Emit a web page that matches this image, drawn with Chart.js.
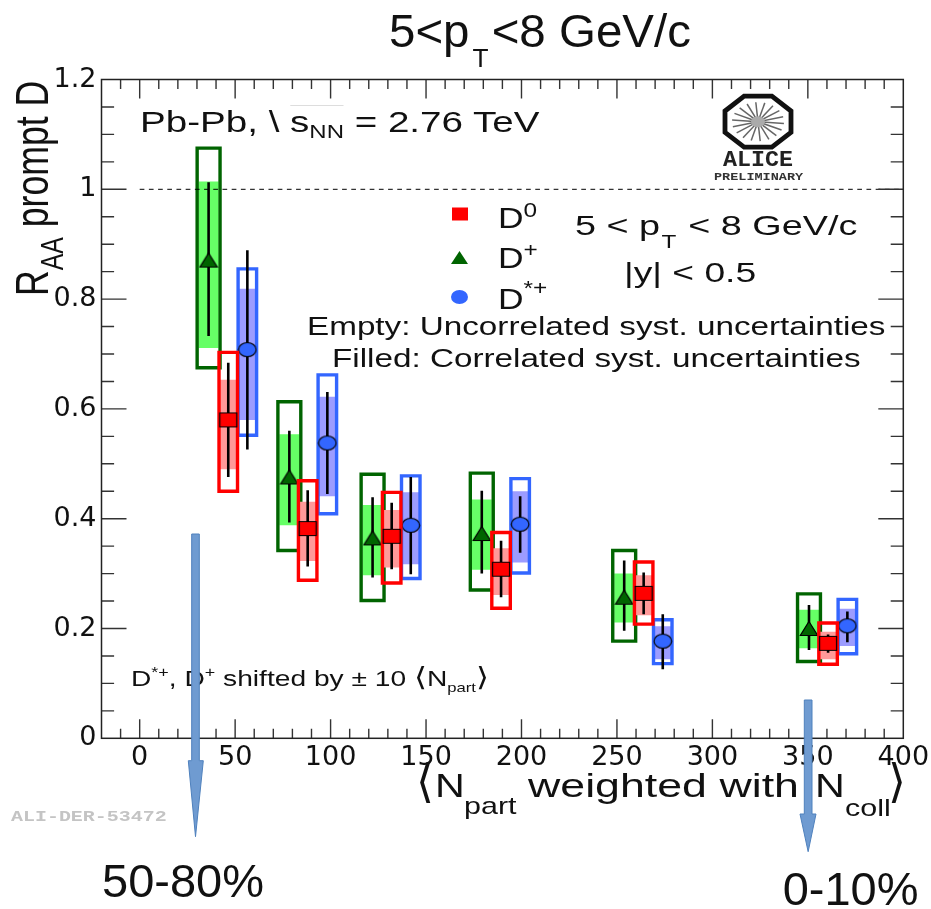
<!DOCTYPE html>
<html><head><meta charset="utf-8">
<style>
html,body{margin:0;padding:0;background:#fff;width:931px;height:909px;overflow:hidden}
#wrap{position:relative;width:931px;height:909px}
canvas#c{position:absolute;left:0;top:0}
.t{position:absolute;white-space:pre;line-height:1;color:#111;transform-origin:0 0;font-family:"Liberation Sans",Arial,sans-serif}
.t span{line-height:0}
svg{position:absolute;left:0;top:0;pointer-events:none}
</style>
<script src="https://cdn.jsdelivr.net/npm/chart.js@4"></script>
</head><body><div id="wrap"><canvas id="c" width="931" height="909"></canvas></div>
<script>
// ---- data ----
const xTickLabels = [0,50,100,150,200,250,300,350,400];
const yTickLabels = [0,0.2,0.4,0.6,0.8,1,1.2];
const unityX = [0,400];
const unityY = [1,1];

const xD0 = [46.4,88,132,189.3,264,360.6];
const valD0 = [0.58,0.382,0.368,0.308,0.264,0.173];
const statLoD0 = [0.476,0.313,0.308,0.257,0.226,0.156];
const statHiD0 = [0.684,0.452,0.429,0.36,0.302,0.189];
const corrLoD0 = [0.49,0.323,0.311,0.261,0.224,0.144];
const corrHiD0 = [0.653,0.431,0.416,0.346,0.297,0.194];
const uncLoD0 = [0.45,0.288,0.283,0.237,0.208,0.135];
const uncHiD0 = [0.703,0.469,0.448,0.375,0.321,0.21];

const xDplus = [36.1,78.4,122,179.2,253.8,350.6];
const valDplus = [0.871,0.476,0.365,0.373,0.257,0.2];
const statLoDplus = [0.733,0.393,0.293,0.3,0.196,0.161];
const statHiDplus = [1.013,0.56,0.439,0.451,0.324,0.243];
const corrLoDplus = [0.711,0.388,0.297,0.307,0.211,0.164];
const corrHiDplus = [1.014,0.554,0.425,0.435,0.3,0.234];
const uncLoDplus = [0.675,0.342,0.251,0.27,0.177,0.14];
const uncHiDplus = [1.075,0.613,0.481,0.483,0.342,0.263];

const xDstar = [56.4,98.3,142,199.3,274,370.7];
const valDstar = [0.708,0.538,0.388,0.39,0.177,0.205];
const statLoDstar = [0.526,0.445,0.299,0.338,0.126,0.175];
const statHiDstar = [0.889,0.631,0.476,0.441,0.226,0.231];
const corrLoDstar = [0.58,0.441,0.317,0.32,0.144,0.168];
const corrHiDstar = [0.819,0.622,0.448,0.45,0.204,0.236];
const uncLoDstar = [0.552,0.409,0.291,0.301,0.136,0.154];
const uncHiDstar = [0.855,0.662,0.478,0.473,0.216,0.253];

// ---- helpers ----
function segs(x,lo,hi){const o=[];x.forEach((v,i)=>{o.push({x:v,y:lo[i]},{x:v,y:hi[i]},{x:v,y:null});});return o;}
function boxes(x,lo,hi,w){const o=[];x.forEach((v,i)=>{o.push({x:v-w,y:lo[i]},{x:v+w,y:lo[i]},{x:v+w,y:hi[i]},{x:v-w,y:hi[i]},{x:v-w,y:lo[i]},{x:v,y:null});});return o;}
function pts(x,y){return x.map((v,i)=>({x:v,y:y[i]}));}
function marker(kind,fill){
  const c=document.createElement('canvas');c.width=20;c.height=17;const g=c.getContext('2d');
  g.fillStyle=fill;g.strokeStyle='#000';g.lineWidth=1.2;g.beginPath();
  if(kind==='rect'){g.rect(1.5,1.5,17,14);}
  else if(kind==='tri'){g.moveTo(10,1.5);g.lineTo(18.7,15.5);g.lineTo(1.3,15.5);g.closePath();}
  else{g.ellipse(10,8.5,8.8,7,0,0,Math.PI*2);}
  g.fill();g.stroke();return c;
}
function group(x,val,sl,sh,cl,ch,ul,uh,half,fillW,fillCol,lineCol,mk){
  return [
    {type:'line',data:segs(x,cl,ch),borderColor:fillCol,borderWidth:fillW,borderCapStyle:'butt',pointRadius:0,tension:0},
    {type:'line',data:boxes(x,ul,uh,half),borderColor:lineCol,borderWidth:3.4,borderCapStyle:'square',borderJoinStyle:'miter',pointRadius:0,tension:0},
    {type:'line',data:segs(x,sl,sh),borderColor:'#000',borderWidth:2.6,borderCapStyle:'butt',pointRadius:0,tension:0},
    {type:'scatter',data:pts(x,val),showLine:false,pointStyle:mk,pointRadius:9,backgroundColor:lineCol}
  ];
}
const list=[
  ...group(xDstar,valDstar,statLoDstar,statHiDstar,corrLoDstar,corrHiDstar,uncLoDstar,uncHiDstar,4.85,18,'#9c9cff','#3366ff',marker('circ','#3366ff')),
  ...group(xDplus,valDplus,statLoDplus,statHiDplus,corrLoDplus,corrHiDplus,uncLoDplus,uncHiDplus,6,20,'#66ff66','#006400',marker('tri','#006400')),
  ...group(xD0,valD0,statLoD0,statHiD0,corrLoD0,corrHiD0,uncLoD0,uncHiD0,4.85,18,'#ff9999','#ff0000',marker('rect','#ff0000')),
  {type:'line',data:pts(unityX,unityY),borderColor:'#000',borderWidth:1,borderDash:[4.7,4.5],pointRadius:0,tension:0}
];
list.forEach((d,i)=>{d.order=list.length-i;d.fill=false;});

const framePlugin={id:'frame',afterDatasetsDraw(ch){
  const g=ch.ctx,a=ch.chartArea,xs=ch.scales.x,ys=ch.scales.y;
  g.save();g.strokeStyle='#333';g.lineWidth=1.4;g.beginPath();
  for(let v=-10;v<400;v+=10){
    const p=xs.getPixelForValue(v),l=(v%50===0)?19:9.5;
    g.moveTo(p,a.bottom);g.lineTo(p,a.bottom-l);g.moveTo(p,a.top);g.lineTo(p,a.top+l);
  }
  for(let k=1;k<24;k++){
    const v=k*0.05,p=ys.getPixelForValue(v),l=(k%4===0)?25:12.6;
    g.moveTo(a.left,p);g.lineTo(a.left+l,p);g.moveTo(a.right,p);g.lineTo(a.right-l,p);
  }
  g.stroke();
  g.strokeStyle='#222';g.lineWidth=1.5;g.strokeRect(a.left,a.top,a.right-a.left,a.bottom-a.top);
  g.restore();
}};

new Chart(document.getElementById('c'),{
  type:'scatter',
  data:{datasets:list},
  plugins:[framePlugin],
  options:{
    responsive:false,animation:false,
    layout:{padding:{left:0,top:79.5,right:27.7,bottom:130.7}},
    plugins:{legend:{display:false},tooltip:{enabled:false},title:{display:false}},
    scales:{
      x:{type:'linear',min:-20,max:400,
        grid:{display:false,drawTicks:false},border:{display:false},
        afterBuildTicks:s=>{s.ticks=xTickLabels.map(v=>({value:v}));},
        afterFit:s=>{s.height=40;s.paddingLeft=0;s.paddingRight=0;},
        ticks:{autoSkip:false,maxRotation:0,padding:3,color:'#111',font:{family:'"DejaVu Sans"',size:27},callback:v=>String(v)}},
      y:{type:'linear',min:0,max:1.2,
        grid:{display:false,drawTicks:false},border:{display:false},
        afterBuildTicks:s=>{s.ticks=yTickLabels.map(v=>({value:v}));},
        afterFit:s=>{s.width=101.5;s.paddingTop=0;s.paddingBottom=0;},
        ticks:{autoSkip:false,padding:5,color:'#111',font:{family:'"DejaVu Sans"',size:27},callback:v=>String(v)}}
    }
  }
});

// ---- annotations ----
const wrap=document.getElementById('wrap');
function T(html,x,base,size,sx,extra){
  const d=document.createElement('div');d.className='t';d.innerHTML=html;
  d.style.left=x+'px';d.style.top=(base-0.8465*size)+'px';d.style.fontSize=size+'px';
  d.style.transform='scaleX('+(sx||1)+')';
  if(extra)Object.assign(d.style,extra);
  wrap.appendChild(d);return d;
}
const sub=(s,px,dy)=>`<span style="font-size:${px}px;position:relative;top:${dy}px">${s}</span>`;
T('5&lt;p<span style="margin:0 3px">'+sub('T',26,20)+'</span>&lt;8 GeV/c',389,47,47,1.01);
T('Pb-Pb, \\ <span style="border-top:1px solid #ddd">s'+sub('NN',18,6)+'</span> = 2.76 TeV',140,132.7,29,1.33);
T('5 &lt; p<span style="margin:0 1px">'+sub('T',18,13)+'</span> &lt; 8 GeV/c',575,235.7,28,1.35);
T('|y| &lt; 0.5',624,282.7,28,1.33);
T('Empty: Uncorrelated syst. uncertainties',307,334.7,25,1.33);
T('Filled: Correlated syst. uncertainties',332,366.7,25,1.33);
T('D'+sub('0',20,-11),498,229,29,1.22);
T('D'+sub('+',20,-11),498,268.3,29,1.22);
T('D'+sub('*+',20,-14),498,310,29,1.22);
T('D'+sub('*+',14,-9)+', D'+sub('+',14,-9)+' shifted by ± 10 <span style="font-family:\'DejaVu Sans\';font-size:26px">⟨</span>N'+sub('part',13,6)+'<span style="font-family:\'DejaVu Sans\';font-size:26px">⟩</span>',131,686.7,22,1.28);
T('⟨',416,797,46,1,{fontFamily:'"DejaVu Sans"'});
T('N',435,797,33,1.25);
T('part',464,814,24,1.27);
T('weighted with',528,797,33,1.355);
T('N',815,797,33,1.25);
T('coll',845,816,24,1.27);
T('⟩',888,797,46,1,{fontFamily:'"DejaVu Sans"'});
T('R'+sub('AA',32,15)+' prompt D',9,296,46,0.775,{transform:'rotate(-90deg) scaleX(0.775)',top:'296px'});
T('ALI-DER-53472',11,822.7,15,1.33,{fontFamily:'"Liberation Mono"',fontWeight:'bold',color:'#c4c4c4'});
T('50-80%',102,896.7,47,1);
T('0-10%',782.7,905,47,1);
T('ALICE',723,168.3,22,1.06,{fontFamily:'"Liberation Mono"',fontWeight:'bold',color:'#222'});
T('PRELIMINARY',714,181.7,10,1.35,{fontFamily:'"Liberation Mono"',fontWeight:'bold',color:'#333'});

// logo, legend symbols and arrows
const NS='http://www.w3.org/2000/svg';
const svg=document.createElementNS(NS,'svg');svg.setAttribute('width',931);svg.setAttribute('height',909);
let s='';
const cx=758,cy=121.7,rx=33,ry=25.5;
const oct=[[-1,-.42],[-.42,-1],[.42,-1],[1,-.42],[1,.42],[.42,1],[-.42,1],[-1,.42]].map(p=>(cx+p[0]*rx)+','+(cy+p[1]*ry)).join(' ');
s+=`<polygon points="${oct}" fill="#fff" stroke="#111" stroke-width="4.8"/>`;
for(let i=0;i<18;i++){const an=i*Math.PI/9+0.09,c=Math.cos(an),n=Math.sin(an);
  s+=`<line x1="${cx+c*4}" y1="${cy+n*3}" x2="${cx+c*26}" y2="${cy+n*19.5}" stroke="#666" stroke-width="1.5"/>`;}
s+=`<ellipse cx="${cx}" cy="${cy}" rx="7" ry="5.5" fill="#aaa"/>`;
s+=`<rect x="452" y="207.5" width="16" height="13" fill="#ff0000"/>`;
s+=`<polygon points="459.5,251 468,264 451,264" fill="#006400"/>`;
s+=`<ellipse cx="459.5" cy="297" rx="8.5" ry="7" fill="#3366ff"/>`;
const arrow=(l,r,top,hy,hl,hr,tip)=>`<polygon points="${l},${top} ${r},${top} ${r},${hy} ${hr},${hy} ${(l+r)/2},${tip} ${hl},${hy} ${l},${hy}" fill="#6f9bd1" stroke="#4f81bd" stroke-width="1"/>`;
s+=arrow(191.7,199.3,534,760.7,188.3,203.3,836.7);
s+=arrow(804.3,812,700,814,800,816,851.7);
svg.innerHTML=s;wrap.appendChild(svg);
</script></body></html>
